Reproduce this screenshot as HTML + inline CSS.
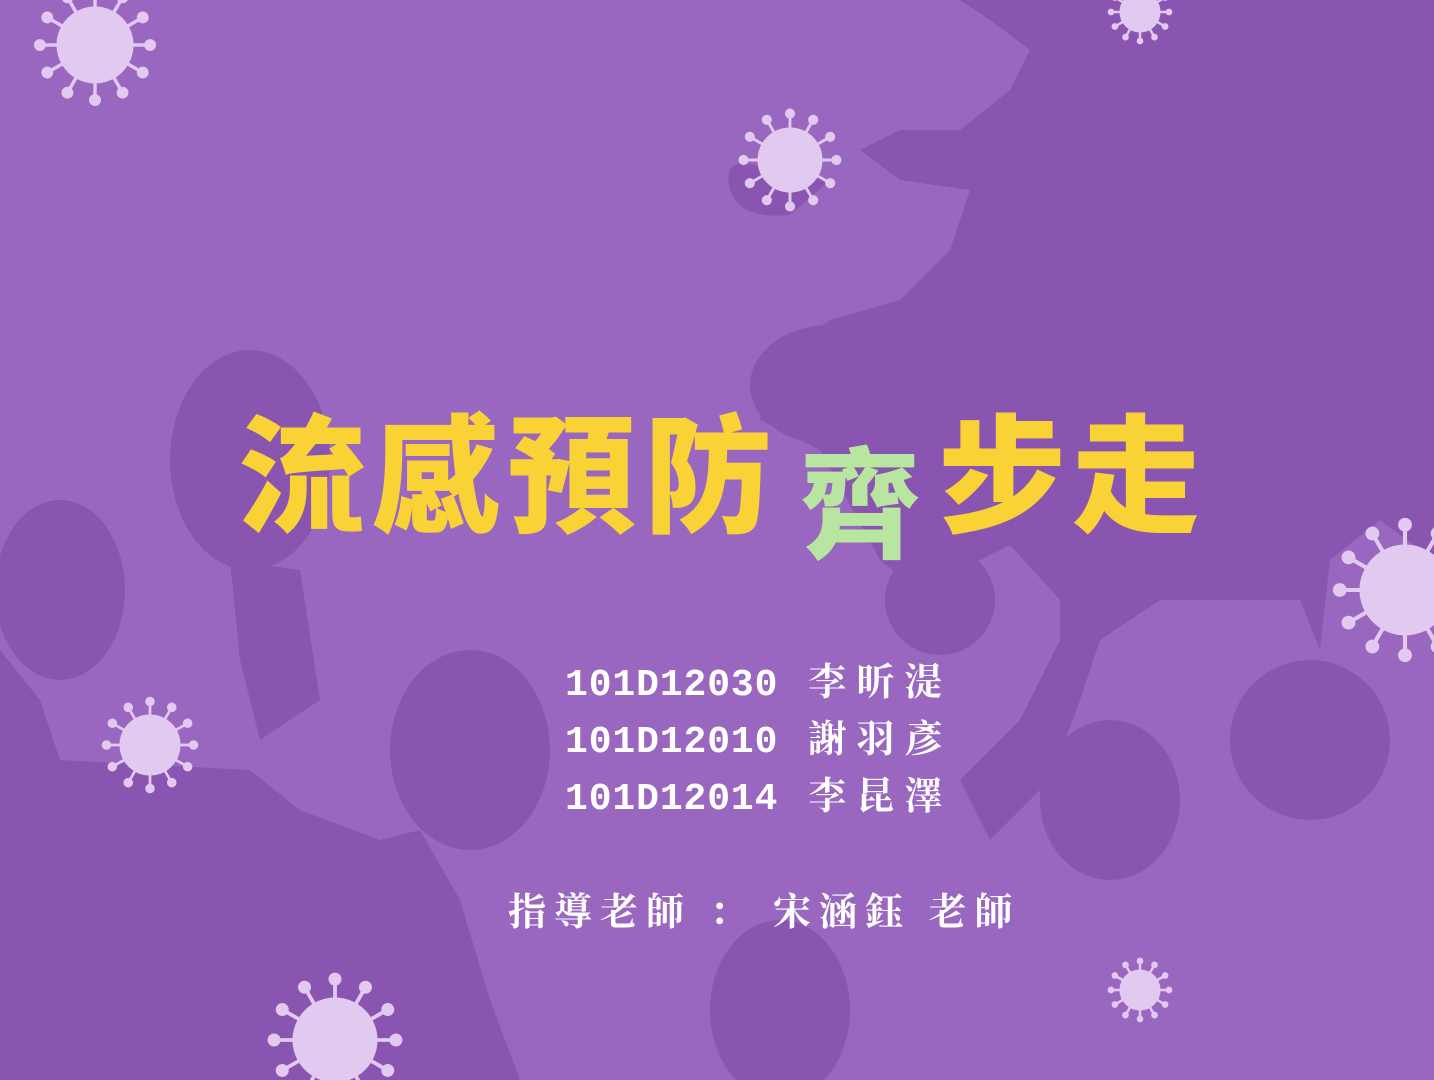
<!DOCTYPE html>
<html><head><meta charset="utf-8">
<style>
html,body{margin:0;padding:0}
body{width:1434px;height:1080px;overflow:hidden;background:#9a67c0;position:relative;font-family:"Liberation Serif","Noto Serif CJK SC",serif}
svg.bg{position:absolute;left:0;top:0}
.title{position:absolute;top:405px;left:0;width:1434px;height:160px}
.t{position:absolute;font-family:"Liberation Sans","Noto Sans CJK TC",sans-serif;font-weight:900;font-size:128px;color:#f9d236;line-height:1;top:10px}
.g{color:#b8e6a0;font-size:120px;top:42px}
.names{position:absolute;left:565px;color:#fff;font-weight:bold;font-size:38px;white-space:nowrap}
.names div{height:57px;line-height:57px}
.id{font-family:"Liberation Mono",monospace;letter-spacing:0.9px}
.cj{font-family:"Liberation Serif","Noto Serif CJK TC",serif;letter-spacing:10px;margin-left:30px}
.adv{position:absolute;left:508px;top:885px;color:#fff;font-weight:bold;font-size:38px;letter-spacing:8px;white-space:nowrap;line-height:57px}
</style></head><body>
<svg class="bg" width="1434" height="1080">
<g fill="#8a55b0">
<path d="M960 0 L1434 0 L1434 560 L1380 520 L1330 560 L1320 650 L1300 600 L1160 600 L1130 620 L1100 640 L1080 700 L1050 780 L990 840 L960 780 L1020 720 L1060 640 L1060 600 L1010 545 L960 570 L930 600 L880 560 L820 450 L760 420 L770 360 L830 320 L900 300 L950 250 L970 190 L900 180 L860 150 L900 130 L960 130 L1010 90 L1030 50 L990 20 Z"/>
<ellipse cx="830" cy="385" rx="80" ry="60"/>
<ellipse cx="250" cy="460" rx="80" ry="110"/>
<ellipse cx="60" cy="590" rx="65" ry="90"/>
<ellipse cx="470" cy="750" rx="80" ry="100"/>
<ellipse cx="1310" cy="740" rx="80" ry="80"/>
<ellipse cx="1110" cy="800" rx="70" ry="80"/>
<ellipse cx="780" cy="1010" rx="70" ry="90"/>
<ellipse cx="940" cy="600" rx="55" ry="55"/>
<path d="M0 650 L40 700 L60 760 L0 780 Z"/>
<path d="M0 780 L60 760 L250 770 L300 810 L380 840 L420 830 L460 900 L490 1000 L520 1080 L0 1080 Z"/>
<path d="M230 560 L300 570 L320 700 L260 740 L240 660 Z"/>
<path d="M770 170 Q720 150 730 190 Q740 220 790 215 L830 180 Z"/>
</g>
<g id="viruses"></g>
</svg>
<div class="title">
<span class="t" style="left:238px">流</span>
<span class="t" style="left:372px">感</span>
<span class="t" style="left:508px">預</span>
<span class="t" style="left:644px">防</span>
<span class="t g" style="left:800px">齊</span>
<span class="t" style="left:938px">步</span>
<span class="t" style="left:1072px">走</span>
</div>
<div class="names" style="top:655px">
<div><span class="id">101D12030</span><span class="cj">李昕湜</span></div>
<div><span class="id">101D12010</span><span class="cj">謝羽彥</span></div>
<div><span class="id">101D12014</span><span class="cj">李昆澤</span></div>
</div>
<div class="adv">指導老師 ： 宋涵鈺 老師</div>
<script>
var vx=[95,790,1140,1405,150,335,1140];
var vy=[45,160,12,590,745,1040,990];
var vr=[38,32,20,45,30,42,20];
var g=document.getElementById('viruses');
var ns='http://www.w3.org/2000/svg';
for(var i=0;i<vx.length;i++){
  var grp=document.createElementNS(ns,'g');
  
  
  grp.setAttribute('fill','#e2c9f0');grp.setAttribute('stroke','#e2c9f0');
  var c=document.createElementNS(ns,'circle');
  c.setAttribute('cx',vx[i]);c.setAttribute('cy',vy[i]);c.setAttribute('r',vr[i]);
  grp.appendChild(c);
  for(var k=0;k<12;k++){
    var a=k*Math.PI/6,r=vr[i];
    var l=document.createElementNS(ns,'line');
    l.setAttribute('x1',vx[i]);l.setAttribute('y1',vy[i]);
    l.setAttribute('x2',vx[i]+Math.cos(a)*r*1.4);l.setAttribute('y2',vy[i]+Math.sin(a)*r*1.4);
    l.setAttribute('stroke-width',Math.max(2.5,r/11));
    grp.appendChild(l);
    var d=document.createElementNS(ns,'circle');
    d.setAttribute('cx',vx[i]+Math.cos(a)*r*1.45);d.setAttribute('cy',vy[i]+Math.sin(a)*r*1.45);
    d.setAttribute('r',Math.max(2.5,r/7));
    grp.appendChild(d);
  }
  g.appendChild(grp);
}
</script>
</body></html>
